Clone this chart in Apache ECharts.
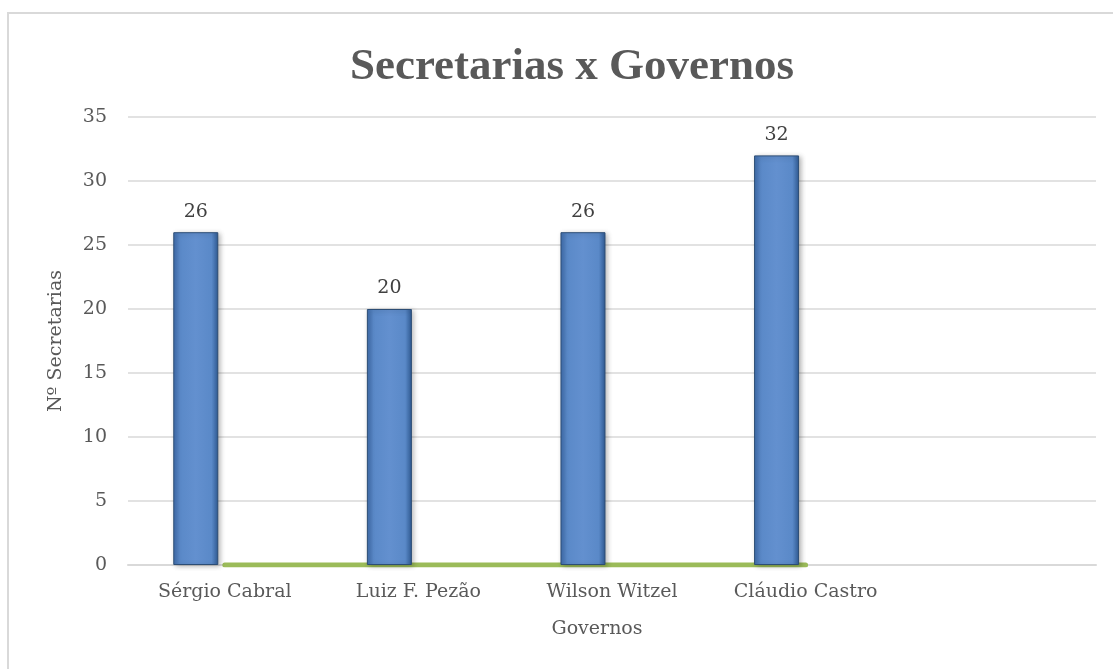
<!DOCTYPE html>
<html>
<head>
<meta charset="utf-8">
<script src="https://cdn.jsdelivr.net/npm/echarts@6/dist/echarts.min.js"></script>
<style>
  html, body { margin: 0; padding: 0; background: #fff; }
  #chart { width: 1113px; height: 669px; }
</style>
</head>
<body>
<div id="chart"></div>
<script>
const categories = ['Sérgio Cabral', 'Luiz F. Pezão', 'Wilson Witzel', 'Cláudio Castro', ''];
const secretarias = [26, 20, 26, 32, null];
const baseLine = [0, 0, 0, 0, null];
const emptySeries = [null, null, null, null, null];
const yTicks = { min: 0, max: 35, interval: 5 };

const TITLE_FONT = 'Liberation Serif';
const FONT = 'DejaVu Serif';
const chart = echarts.init(document.getElementById('chart'));
chart.setOption({
  backgroundColor: '#ffffff',
  animation: false,
  graphic: [{
    type: 'rect',
    shape: { x: 8, y: 13, width: 1200, height: 700 },
    style: { fill: 'none', stroke: '#d9d9d9', lineWidth: 2 },
    silent: true
  }],
  title: {
    text: 'Secretarias x Governos',
    left: 567,
    top: 40,
    textAlign: 'center',
    textStyle: { fontFamily: TITLE_FONT, fontSize: 45, fontWeight: 'bold', color: '#595959' }
  },
  grid: { left: 128, right: 17, top: 117, bottom: 104, containLabel: false },
  xAxis: {
    type: 'category',
    data: categories,
    name: 'Governos',
    nameLocation: 'middle',
    nameGap: 55,
    nameTextStyle: { fontFamily: FONT, fontSize: 19, color: '#595959', padding: [0, 30, 0, 0] },
    axisLine: { lineStyle: { color: '#d9d9d9', width: 2 } },
    axisTick: { show: false },
    axisLabel: { fontFamily: FONT, fontSize: 19, color: '#595959', margin: 18, interval: 0 }
  },
  yAxis: {
    type: 'value',
    min: yTicks.min,
    max: yTicks.max,
    interval: yTicks.interval,
    name: 'Nº Secretarias',
    nameLocation: 'middle',
    nameGap: 62,
    nameRotate: 90,
    nameTextStyle: { fontFamily: FONT, fontSize: 19, color: '#595959' },
    axisLine: { show: false },
    axisTick: { show: false },
    splitLine: { lineStyle: { color: '#d9d9d9', width: 1.5 } },
    axisLabel: { fontFamily: FONT, fontSize: 19, color: '#595959', margin: 21 }
  },
  series: [
    {
      type: 'bar',
      data: secretarias,
      barWidth: 45,
      barGap: '29%',
      z: 3,
      itemStyle: {
        color: new echarts.graphic.LinearGradient(0, 0, 1, 0, [
          { offset: 0, color: '#3f6cab' },
          { offset: 0.15, color: '#5a89c8' },
          { offset: 0.5, color: '#6390cf' },
          { offset: 0.85, color: '#5a89c8' },
          { offset: 1, color: '#2f5a92' }
        ]),
        borderColor: '#2c4d75',
        borderWidth: 1,
        shadowColor: 'rgba(0,0,0,0.3)',
        shadowBlur: 5,
        shadowOffsetX: 2,
        shadowOffsetY: 1
      },
      label: {
        show: true,
        position: 'top',
        distance: 11,
        fontFamily: FONT,
        fontSize: 19,
        color: '#404040'
      }
    },
    {
      type: 'bar',
      data: emptySeries,
      barWidth: 45
    },
    {
      type: 'line',
      data: baseLine,
      symbol: 'none',
      z: 2,
      lineStyle: { color: '#9bbb59', width: 5, cap: 'round' }
    }
  ]
});
</script>
</body>
</html>
